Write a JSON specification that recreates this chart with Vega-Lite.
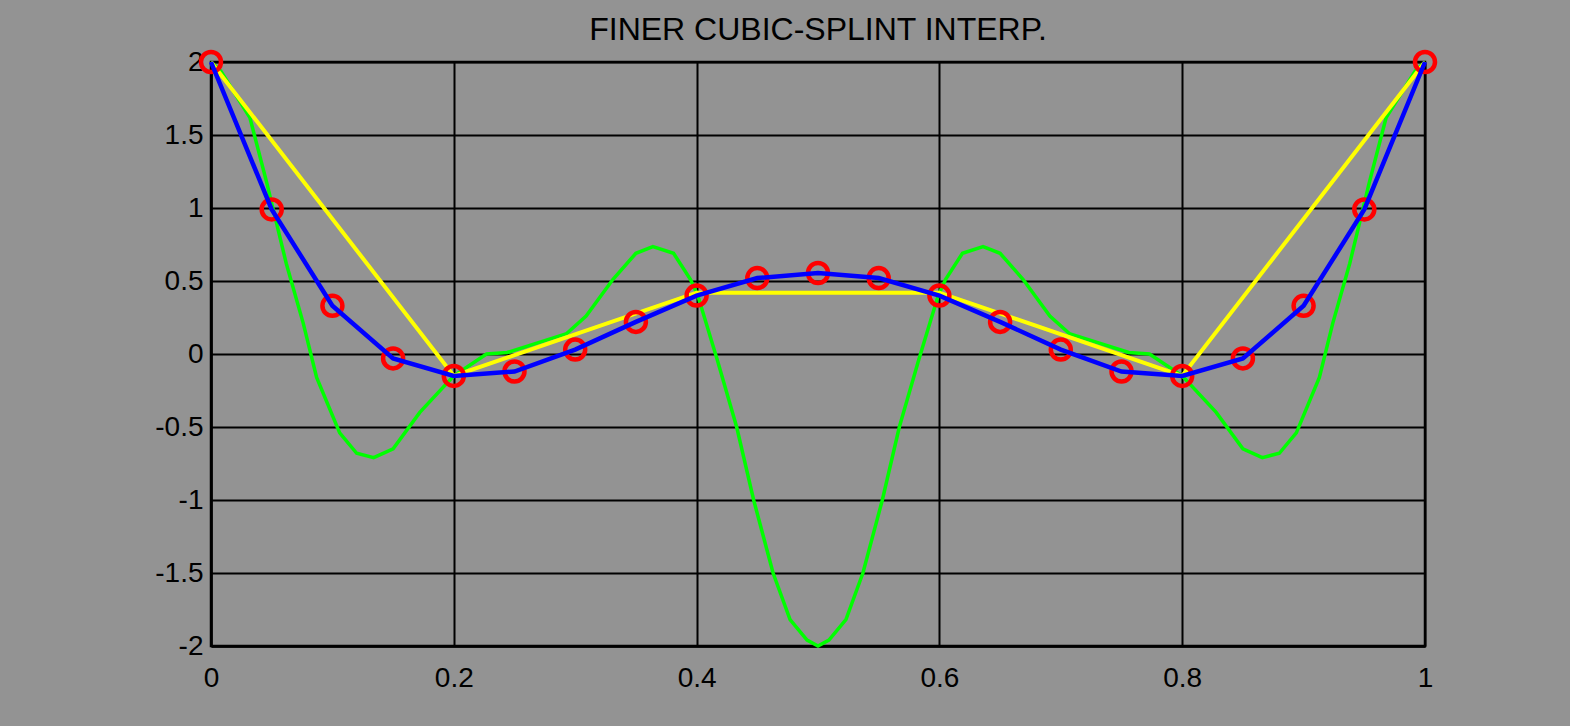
{
  "$schema": "https://vega.github.io/schema/vega-lite/v6.json",
  "autosize": "none",
  "width": 1214,
  "height": 584,
  "padding": {"left": 211, "top": 62, "right": 145, "bottom": 80},
  "background": "#939393",
  "title": {
    "text": "FINER CUBIC-SPLINT INTERP.",
    "font": "Liberation Sans",
    "fontSize": 32,
    "fontWeight": "normal",
    "color": "black",
    "anchor": "middle",
    "offset": -4
  },
  "config": {
    "view": {"stroke": "black", "strokeWidth": 2.5},
    "axis": {
      "labelFont": "Liberation Sans",
      "labelFontSize": 28,
      "labelColor": "black",
      "labelFlush": false,
      "labelOverlap": false,
      "ticks": false,
      "grid": true,
      "gridColor": "black",
      "gridWidth": 2,
      "gridOpacity": 1,
      "domainColor": "black",
      "domainWidth": 2.5,
      "title": null
    }
  },
  "datasets": {
    "spline": [
      {"x": 0.000, "y": 2.00}, {"x": 0.008, "y": 1.94}, {"x": 0.032, "y": 1.62},
      {"x": 0.046, "y": 1.17}, {"x": 0.062, "y": 0.62}, {"x": 0.076, "y": 0.21},
      {"x": 0.087, "y": -0.16}, {"x": 0.106, "y": -0.54}, {"x": 0.120, "y": -0.68},
      {"x": 0.134, "y": -0.71}, {"x": 0.150, "y": -0.65}, {"x": 0.172, "y": -0.40},
      {"x": 0.200, "y": -0.15}, {"x": 0.227, "y": 0.00}, {"x": 0.244, "y": 0.01},
      {"x": 0.293, "y": 0.14}, {"x": 0.309, "y": 0.26}, {"x": 0.331, "y": 0.51},
      {"x": 0.350, "y": 0.69}, {"x": 0.364, "y": 0.735}, {"x": 0.381, "y": 0.69},
      {"x": 0.395, "y": 0.51}, {"x": 0.401, "y": 0.40}, {"x": 0.417, "y": -0.04},
      {"x": 0.433, "y": -0.50}, {"x": 0.447, "y": -1.00}, {"x": 0.463, "y": -1.50},
      {"x": 0.477, "y": -1.82}, {"x": 0.491, "y": -1.96}, {"x": 0.500, "y": -2.00},
      {"x": 0.509, "y": -1.96}, {"x": 0.523, "y": -1.82}, {"x": 0.537, "y": -1.50},
      {"x": 0.553, "y": -1.00}, {"x": 0.567, "y": -0.50}, {"x": 0.583, "y": -0.04},
      {"x": 0.599, "y": 0.40}, {"x": 0.605, "y": 0.51}, {"x": 0.619, "y": 0.69},
      {"x": 0.636, "y": 0.735}, {"x": 0.650, "y": 0.69}, {"x": 0.669, "y": 0.51},
      {"x": 0.691, "y": 0.26}, {"x": 0.707, "y": 0.14}, {"x": 0.756, "y": 0.01},
      {"x": 0.773, "y": 0.00}, {"x": 0.800, "y": -0.15}, {"x": 0.828, "y": -0.40},
      {"x": 0.850, "y": -0.65}, {"x": 0.866, "y": -0.71}, {"x": 0.880, "y": -0.68},
      {"x": 0.894, "y": -0.54}, {"x": 0.913, "y": -0.16}, {"x": 0.924, "y": 0.21},
      {"x": 0.938, "y": 0.62}, {"x": 0.954, "y": 1.17}, {"x": 0.968, "y": 1.62},
      {"x": 0.992, "y": 1.94}, {"x": 1.000, "y": 2.00}
    ],
    "coarse": [
      {"x": 0.0, "y": 2.00}, {"x": 0.2, "y": -0.15}, {"x": 0.4, "y": 0.42},
      {"x": 0.6, "y": 0.42}, {"x": 0.8, "y": -0.15}, {"x": 1.0, "y": 2.00}
    ],
    "samples": [
      {"x": 0.00, "y": 2.00}, {"x": 0.05, "y": 0.99}, {"x": 0.10, "y": 0.33},
      {"x": 0.15, "y": -0.03}, {"x": 0.20, "y": -0.15}, {"x": 0.25, "y": -0.12},
      {"x": 0.30, "y": 0.03}, {"x": 0.35, "y": 0.22}, {"x": 0.40, "y": 0.40},
      {"x": 0.45, "y": 0.52}, {"x": 0.50, "y": 0.555}, {"x": 0.55, "y": 0.52},
      {"x": 0.60, "y": 0.40}, {"x": 0.65, "y": 0.22}, {"x": 0.70, "y": 0.03},
      {"x": 0.75, "y": -0.12}, {"x": 0.80, "y": -0.15}, {"x": 0.85, "y": -0.03},
      {"x": 0.90, "y": 0.33}, {"x": 0.95, "y": 0.99}, {"x": 1.00, "y": 2.00}
    ]
  },
  "encoding": {
    "x": {
      "field": "x", "type": "quantitative",
      "scale": {"domain": [0, 1], "nice": false, "zero": false},
      "axis": {"values": [0, 0.2, 0.4, 0.6, 0.8, 1], "labelExpr": "'' + datum.value", "labelPadding": 18}
    },
    "y": {
      "field": "y", "type": "quantitative",
      "scale": {"domain": [-2, 2], "nice": false, "zero": false},
      "axis": {"values": [-2, -1.5, -1, -0.5, 0, 0.5, 1, 1.5, 2], "labelExpr": "'' + datum.value", "labelPadding": 8}
    }
  },
  "layer": [
    {
      "data": {"name": "spline"},
      "mark": {"type": "line", "color": "#00ff00", "strokeWidth": 3.5, "clip": false}
    },
    {
      "data": {"name": "coarse"},
      "mark": {"type": "line", "color": "#ffff00", "strokeWidth": 4, "clip": false}
    },
    {
      "data": {"name": "samples"},
      "mark": {"type": "point", "shape": "circle", "filled": false, "color": "#ff0000", "strokeWidth": 4.5, "size": 400, "opacity": 1}
    },
    {
      "data": {"name": "samples"},
      "mark": {"type": "line", "color": "#0000ff", "strokeWidth": 4.5, "clip": false}
    }
  ]
}
